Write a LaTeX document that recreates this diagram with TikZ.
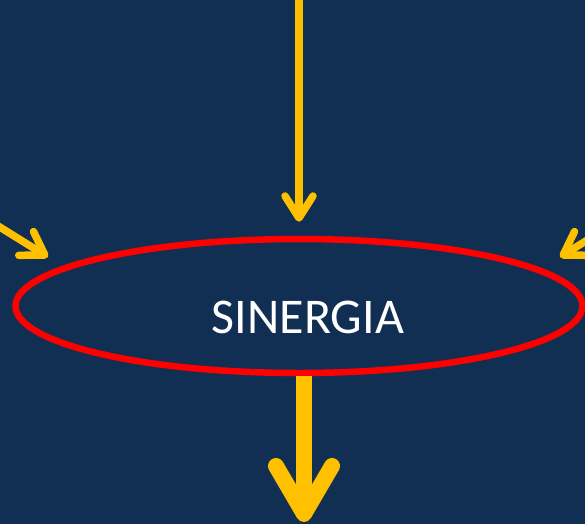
\documentclass[tikz,border=0pt]{standalone}
\usepackage{fontspec}
\setmainfont{Carlito}
\usetikzlibrary{arrows.meta, positioning, shapes.geometric, calc}

\definecolor{navy}{HTML}{102F52}
\definecolor{gold}{HTML}{FFC000}

\begin{document}
\begin{tikzpicture}[x=1pt, y=-1pt,
    thin arrow/.style={draw=gold, line width=7.5pt, line cap=round,
        -{Straight Barb[length=22pt, width=28pt, round]}},
    thick arrow/.style={draw=gold, line width=16pt,
        -{Straight Barb[length=48pt, width=56pt, round]}}]
    \fill[navy] (0,0) rectangle (585,524);
    \useasboundingbox (0,0) rectangle (585,524);

    \node[draw=red, line width=6.5pt, ellipse, minimum width=567pt, minimum height=134pt, inner sep=0pt] (sin) at (299,306) {};
    \node[text=white, font=\fontsize{50}{60}\selectfont, inner sep=0pt] (lbl) at (308,317) {SINERGIA};

    \coordinate (topin) at (299,-10);
    \coordinate (leftin) at (-10,221);
    \coordinate (lefttip) at (48,257);
    \coordinate (rightin) at (618,221);
    \coordinate (righttip) at (560,257);
    \coordinate (botout) at (304,522);

    \draw[thin arrow, shorten >=14pt] (topin) -- (sin);
    \draw[thin arrow] (leftin) -- (lefttip);
    \draw[thin arrow] (rightin) -- (righttip);
    \draw[thick arrow] (sin.south -| botout) -- (botout);
\end{tikzpicture}
\end{document}
